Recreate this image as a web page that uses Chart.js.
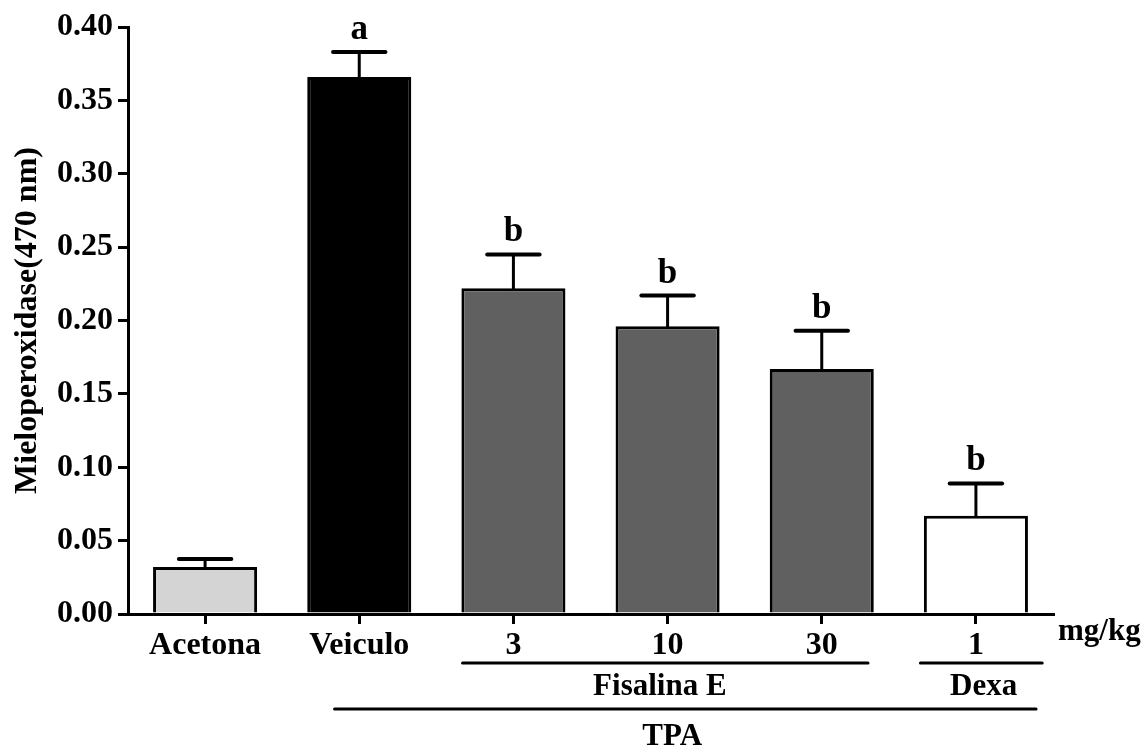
<!DOCTYPE html>
<html>
<head>
<meta charset="utf-8">
<script src="https://cdn.jsdelivr.net/npm/chart.js@4.4.0/dist/chart.umd.min.js"></script>
<style>
  html, body { margin: 0; padding: 0; background: #fff; }
  #wrap { width: 1147px; height: 749px; position: relative; }
</style>
</head>
<body>
<div id="wrap"><canvas id="mpoChart"></canvas></div>
<script>
// data
const categories = ['Acetona', 'Veiculo', '3', '10', '30', '1'];
const means = [0.032, 0.366, 0.222, 0.196, 0.167, 0.067];
const sems = [0.0055, 0.017, 0.023, 0.021, 0.026, 0.022];
const sigLetters = ['', 'a', 'b', 'b', 'b', 'b'];
const yTicks = [0, 0.05, 0.10, 0.15, 0.20, 0.25, 0.30, 0.35, 0.40];
const groupLabels = ['Fisalina E', 'Dexa', 'TPA'];
const unitLabel = 'mg/kg';

const barFills = ['#d4d4d4', '#000000', '#606060', '#606060', '#606060', '#ffffff'];
const SERIF = '"Liberation Serif", "Times New Roman", serif';

const errorBars = {
  id: 'errorBars',
  afterDatasetsDraw(chart) {
    const ctx = chart.ctx;
    const x = chart.scales.x, y = chart.scales.y;
    ctx.save();
    ctx.strokeStyle = '#000';
    ctx.lineCap = 'round';
    means.forEach((m, i) => {
      const cx = x.getPixelForValue(i);
      const yTop = y.getPixelForValue(m);
      const yErr = y.getPixelForValue(m + sems[i]);
      const half = (x.getPixelForValue(1) - x.getPixelForValue(0)) * 0.17;
      ctx.lineWidth = 3;
      ctx.beginPath();
      ctx.moveTo(cx, yTop);
      ctx.lineTo(cx, yErr);
      ctx.stroke();
      ctx.lineWidth = 4;
      ctx.beginPath();
      ctx.moveTo(cx - half, yErr);
      ctx.lineTo(cx + half, yErr);
      ctx.stroke();
      if (sigLetters[i]) {
        ctx.fillStyle = '#000';
        ctx.font = 'bold 35px ' + SERIF;
        ctx.textAlign = 'center';
        ctx.textBaseline = 'alphabetic';
        ctx.fillText(sigLetters[i], cx, yErr - 13);
      }
    });
    ctx.restore();
  }
};

const groupMarks = {
  id: 'groupMarks',
  afterDraw(chart) {
    const ctx = chart.ctx;
    const x = chart.scales.x;
    const px = v => x.getPixelForValue(v);
    ctx.save();
    ctx.strokeStyle = '#000';
    ctx.fillStyle = '#000';
    ctx.lineWidth = 3;
    ctx.lineCap = 'round';
    const line = (a, b, yy) => {
      ctx.beginPath();
      ctx.moveTo(px(a), yy);
      ctx.lineTo(px(b), yy);
      ctx.stroke();
    };
    line(1.67, 4.3, 663);
    line(4.64, 5.43, 663);
    line(0.84, 5.39, 709);
    ctx.font = 'bold 31px ' + SERIF;
    ctx.textAlign = 'center';
    ctx.textBaseline = 'middle';
    ctx.fillText(groupLabels[0], px(2.95), 687);
    ctx.fillText(groupLabels[1], px(5.05), 687);
    ctx.fillText(groupLabels[2], px(3.03), 737);
    ctx.textAlign = 'left';
    ctx.font = 'bold 31px ' + SERIF;
    ctx.fillText(unitLabel, chart.chartArea.right + 5, 632);
    ctx.restore();
  }
};

const ctx = document.getElementById('mpoChart').getContext('2d');
const mpoChart = new Chart(ctx, {
  type: 'bar',
  data: {
    labels: categories,
    datasets: [{
      data: means,
      backgroundColor: barFills,
      borderColor: '#000',
      borderWidth: 3,
      barPercentage: 0.675,
      categoryPercentage: 1.0
    }]
  },
  options: {
    responsive: true,
    maintainAspectRatio: false,
    animation: false,
    layout: {
      padding: { left: 0, top: 27, right: 94, bottom: 0 }
    },
    plugins: {
      legend: { display: false },
      tooltip: { enabled: false }
    },
    scales: {
      x: {
        grid: {
          display: true,
          offset: false,
          drawOnChartArea: false,
          drawTicks: true,
          tickLength: 10,
          lineWidth: 3,
          color: '#000'
        },
        border: { display: true, width: 3, color: '#000' },
        ticks: {
          autoSkip: false,
          maxRotation: 0,
          padding: 3,
          color: '#000',
          font: { family: SERIF, size: 32, weight: 'bold' }
        },
        afterFit(scale) { scale.height = 135; }
      },
      y: {
        min: 0,
        max: 0.4,
        afterBuildTicks(scale) { scale.ticks = yTicks.map(v => ({ value: v })); },
        grid: {
          display: true,
          drawOnChartArea: false,
          drawTicks: true,
          tickLength: 10,
          lineWidth: 3,
          color: '#000'
        },
        border: { display: true, width: 3, color: '#000' },
        ticks: {
          padding: 5,
          color: '#000',
          font: { family: SERIF, size: 32, weight: 'bold' },
          callback: v => Number(v).toFixed(2)
        },
        title: {
          display: true,
          text: 'Mieloperoxidase(470 nm)',
          color: '#000',
          padding: { top: 9, bottom: 0 },
          font: { family: SERIF, size: 32, weight: 'bold' }
        },
        afterFit(scale) { scale.width = 128; }
      }
    }
  },
  plugins: [errorBars, groupMarks]
});
</script>
</body>
</html>
